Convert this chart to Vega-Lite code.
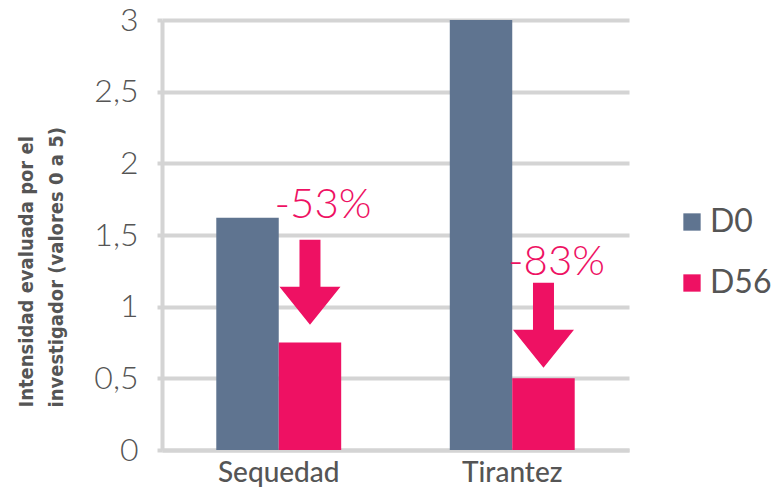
{
  "$schema": "https://vega.github.io/schema/vega-lite/v6.json",
  "width": 467,
  "height": 430,
  "autosize": {"type": "none"},
  "padding": {"left": 162, "top": 20, "right": 142, "bottom": 37},
  "background": "white",
  "config": {"view": {"stroke": null}, "font": "Lato"},
  "datasets": {
    "barras": [
      {"categoria": "Sequedad", "dia": "D0", "valor": 1.62},
      {"categoria": "Sequedad", "dia": "D56", "valor": 0.75},
      {"categoria": "Tirantez", "dia": "D0", "valor": 3.0},
      {"categoria": "Tirantez", "dia": "D56", "valor": 0.5}
    ],
    "notas": [
      {"categoria": "Sequedad", "dia": "D56", "etiqueta": "-53%", "y_texto": 1.62, "y_flecha": 1.17},
      {"categoria": "Tirantez", "dia": "D56", "etiqueta": "-83%", "y_texto": 1.22, "y_flecha": 0.87}
    ]
  },
  "layer": [
    {
      "data": {"name": "barras"},
      "mark": {"type": "bar"},
      "encoding": {
        "x": {
          "field": "categoria", "type": "nominal",
          "scale": {"domain": ["Sequedad", "Tirantez"], "paddingInner": 0.465, "paddingOuter": 0.2325},
          "axis": {
            "title": null, "labelAngle": 0, "ticks": false, "grid": false,
            "domainColor": "#d4d4d4", "domainWidth": 4,
            "labelFontSize": 28, "labelColor": "#555555", "labelFontWeight": 500, "labelPadding": 9
          }
        },
        "xOffset": {"field": "dia", "type": "nominal", "scale": {"domain": ["D0", "D56"], "paddingInner": 0, "paddingOuter": 0}},
        "y": {
          "field": "valor", "type": "quantitative",
          "scale": {"domain": [0, 3], "nice": false},
          "axis": {
            "title": ["Intensidad evaluada por el", "investigador (valores 0 a 5)"],
            "values": [0, 0.5, 1, 1.5, 2, 2.5, 3],
            "labelExpr": "replace(format(datum.value, '~g'), '.', ',')",
            "labelFontSize": 32, "labelColor": "#555555", "labelFontWeight": 300, "labelPadding": 19,
            "tickSize": 5, "tickColor": "#d4d4d4", "tickWidth": 4,
            "domainColor": "#d4d4d4", "domainWidth": 4,
            "grid": true, "gridColor": "#d4d4d4", "gridWidth": 4,
            "titleFont": "DejaVu Sans Condensed", "titleFontWeight": "bold", "titleFontSize": 20,
            "titleColor": "#555555", "titleLineHeight": 30, "titleAlign": "left", "titleBaseline": "bottom",
            "titleAngle": -90, "titleX": -126, "titleY": 387
          }
        },
        "color": {
          "field": "dia", "type": "nominal",
          "scale": {"domain": ["D0", "D56"], "range": ["#5f7490", "#ee1163"]},
          "legend": {
            "title": null, "orient": "none", "legendX": 514, "legendY": 186,
            "symbolType": "square", "symbolSize": 300, "symbolStrokeWidth": 0,
            "labelFontSize": 32, "labelColor": "#555555", "labelFontWeight": 400,
            "labelOffset": 2, "rowPadding": 29
          }
        }
      }
    },
    {
      "data": {"name": "notas"},
      "mark": {
        "type": "point", "filled": true, "opacity": 1, "strokeWidth": 0, "color": "#ee1163", "size": 7225,
        "shape": "M-0.247,-1 L0.247,-1 L0.247,0.106 L0.718,0.106 L0,1 L-0.718,0.106 L-0.247,0.106 Z"
      },
      "encoding": {
        "x": {"field": "categoria", "type": "nominal"},
        "xOffset": {"field": "dia", "type": "nominal"},
        "y": {"field": "y_flecha", "type": "quantitative"}
      }
    },
    {
      "data": {"name": "notas"},
      "mark": {"type": "text", "fontSize": 42, "fontWeight": 300, "color": "#ee1163", "align": "center", "baseline": "alphabetic", "dx": 13},
      "encoding": {
        "x": {"field": "categoria", "type": "nominal"},
        "xOffset": {"field": "dia", "type": "nominal"},
        "y": {"field": "y_texto", "type": "quantitative"},
        "text": {"field": "etiqueta"}
      }
    }
  ]
}
